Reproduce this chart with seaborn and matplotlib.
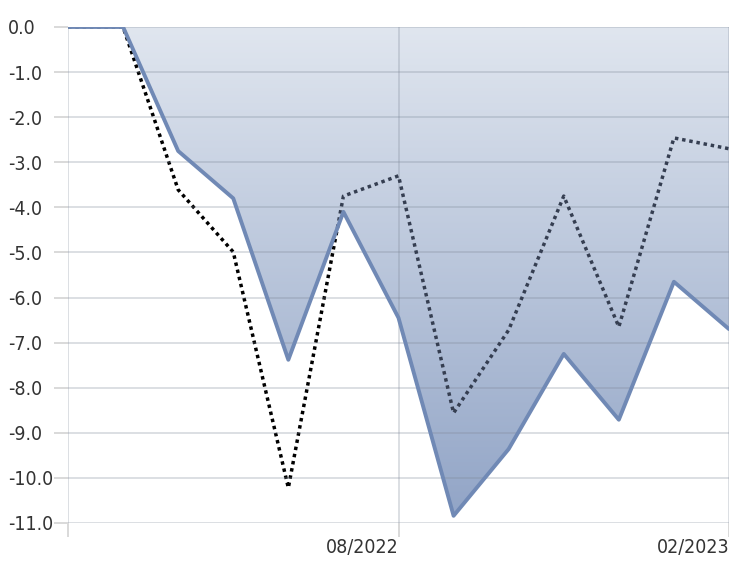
import numpy as np
import pandas as pd
import matplotlib
matplotlib.use("Agg")
import matplotlib.pyplot as plt
from matplotlib.colors import LinearSegmentedColormap
import seaborn as sns

# Monthly drawdown (%) of the fund and its benchmark
months = ["02/2022", "03/2022", "04/2022", "05/2022", "06/2022", "07/2022",
          "08/2022", "09/2022", "10/2022", "11/2022", "12/2022", "01/2023", "02/2023"]
fund = [0.0, 0.0, -2.75, -3.80, -7.38, -4.10, -6.45, -10.84, -9.36, -7.25, -8.71, -5.65, -6.70]
benchmark = [0.0, 0.0, -3.61, -4.99, -10.22, -3.75, -3.30, -8.56, -6.72, -3.75, -6.65, -2.46, -2.70]
y_ticks = [0.0, -1.0, -2.0, -3.0, -4.0, -5.0, -6.0, -7.0, -8.0, -9.0, -10.0, -11.0]
x_tick_labels = {0: "", 6: "08/2022", 12: "02/2023"}

df = pd.DataFrame({"idx": np.arange(len(months)), "month": months,
                   "fund": fund, "benchmark": benchmark})

sns.set_theme(style="white")
plt.rcParams["font.family"] = ["Liberation Sans Narrow", "DejaVu Sans"]
plt.rcParams["font.stretch"] = "condensed"

W, H, DPI = 729, 581, 100
fig = plt.figure(figsize=(W / DPI, H / DPI), dpi=DPI)
left, right, top, bottom = 68, 729, 27, 523
ax = fig.add_axes([left / W, 1 - bottom / H, (right - left) / W, (bottom - top) / H])

grid_c = "#d9d9d9"
line_c = "#7089b5"
dot_style = (0, (1, 1.1))

# benchmark dotted line (below the area)
sns.lineplot(data=df, x="idx", y="benchmark", ax=ax, color="black", lw=2.5,
             zorder=2, estimator=None, sort=False)
dot_line = ax.lines[-1]
dot_line.set_linestyle(dot_style)
dot_line.set_dash_capstyle("butt")

# gradient area between zero and the fund drawdown
poly = ax.fill_between(df["idx"], 0, df["fund"], facecolor="none", edgecolor="none", zorder=3)
cmap = LinearSegmentedColormap.from_list("dd", ["#e0e6ef", "#91a4c6"])
grad = np.linspace(0, 1, 256).reshape(-1, 1)
img = ax.imshow(grad, cmap=cmap, aspect="auto", extent=[0, 12, -11, 0],
                origin="upper", zorder=3, interpolation="bilinear")
img.set_clip_path(poly.get_paths()[0], transform=ax.transData)

# horizontal / vertical guides showing through the area
for yv in y_ticks:
    ax.axhline(yv, color="#7d8797", alpha=0.27, lw=1.4, zorder=3.5)
for xv in x_tick_labels:
    ax.axvline(xv, color="#7d8797", alpha=0.27, lw=1.4, zorder=3.5)

# benchmark segment inside the area, tinted by the fill
sns.lineplot(data=df, x="idx", y="benchmark", ax=ax, color="#353e51", lw=2.5,
             zorder=4, estimator=None, sort=False)
inner = ax.lines[-1]
inner.set_linestyle(dot_style)
inner.set_dash_capstyle("butt")
inner.set_clip_path(poly.get_paths()[0], transform=ax.transData)

# fund solid line
sns.lineplot(data=df, x="idx", y="fund", ax=ax, color=line_c, lw=2.8,
             zorder=5, estimator=None, sort=False)

ax.set_xlim(0, 12)
ax.set_ylim(-11, 0)
ax.set_xlabel("")
ax.set_ylabel("")
for s in ax.spines.values():
    s.set_visible(False)
ax.grid(False)

ax.set_yticks(y_ticks)
ax.set_yticklabels([f"{v:.1f}" for v in y_ticks])
ax.set_xticks(list(x_tick_labels.keys()))
ax.set_xticklabels(list(x_tick_labels.values()))

tick_len_pt = 14 * 72 / DPI
ax.tick_params(axis="y", length=tick_len_pt, width=1.4, color=grid_c, direction="out",
               labelsize=14, labelcolor="#333333", pad=(60 - 14) * 72 / DPI, left=True)
ax.tick_params(axis="x", length=tick_len_pt, width=1.4, color=grid_c, direction="out",
               labelsize=14, labelcolor="#333333", pad=0.5, bottom=True)
for t in ax.get_yticklabels():
    t.set_ha("left")
    t.set_fontstretch("condensed")
for t in ax.get_xticklabels():
    t.set_ha("right")
    t.set_fontstretch("condensed")

fig.savefig("out.png", dpi=DPI, facecolor="white")
